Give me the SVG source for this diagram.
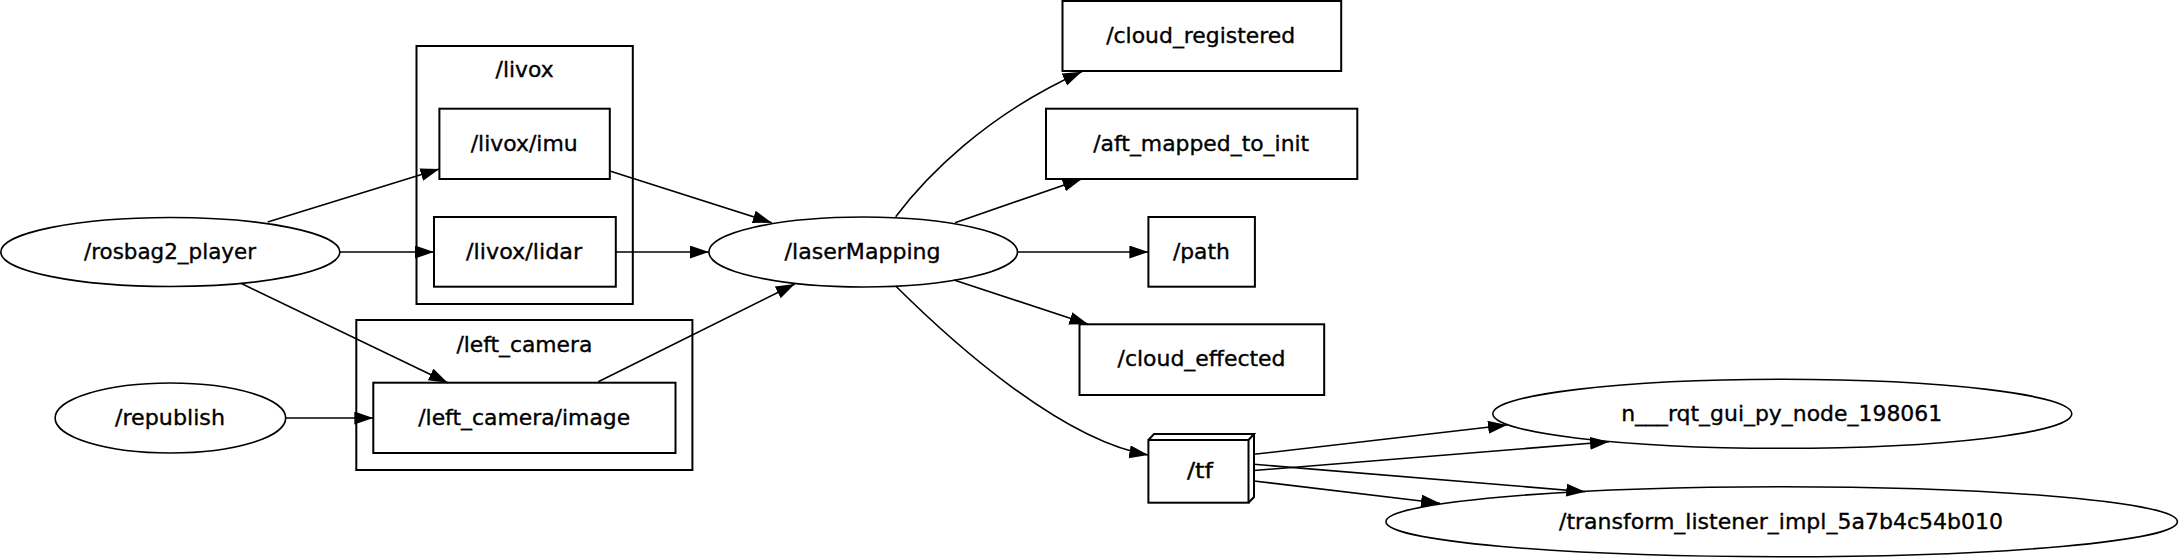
<svg xmlns="http://www.w3.org/2000/svg" width="2179" height="558" viewBox="0 0 2179 558">
<style>
text{font-family:"DejaVu Sans","Liberation Sans",sans-serif;font-size:21px;fill:#000;stroke:#000;stroke-width:0.35;text-anchor:middle}
.box{fill:none;stroke:#000;stroke-width:2}
.clu{fill:none;stroke:#000;stroke-width:2}
.ell{fill:none;stroke:#000;stroke-width:1.6}
.edge{fill:none;stroke:#000;stroke-width:1.6;marker-end:url(#arr)}
</style>
<defs>
<marker id="arr" markerUnits="userSpaceOnUse" markerWidth="20" markerHeight="14" refX="19" refY="6.5" orient="auto">
<path d="M0,0 L19,6.5 L0,13 z" fill="#000"/>
</marker>
</defs>
<rect width="2179" height="558" fill="#fff"/>
<g id="cluster_livox">
<rect class="clu" x="416.5" y="46" width="216.3" height="258"/>
<text x="524.6" y="77" textLength="58" lengthAdjust="spacingAndGlyphs">/livox</text>
</g>
<g id="cluster_left_camera">
<rect class="clu" x="356.3" y="320" width="336.1" height="150"/>
<text x="524.4" y="352" textLength="136" lengthAdjust="spacingAndGlyphs">/left_camera</text>
</g>
<g id="edges">
<path class="edge" d="M267.7,222 L439.4,169"/>
<path class="edge" d="M339.8,252 L434,252"/>
<path class="edge" d="M241,283.3 L447.7,382.7"/>
<path class="edge" d="M285.6,418 L373.3,418"/>
<path class="edge" d="M609.8,171 L771.8,222.7"/>
<path class="edge" d="M615.8,252 L708.9,252"/>
<path class="edge" d="M598.3,381.7 L794.8,284"/>
<path class="edge" d="M895.7,216.7 C925,178 985,115 1081.7,71.7"/>
<path class="edge" d="M955,222.7 L1081.7,179"/>
<path class="edge" d="M1017.5,252 L1148.4,252"/>
<path class="edge" d="M954,280 L1088.3,324.3"/>
<path class="edge" d="M895.7,286 C950,340 1060,440 1148.3,455"/>
<path class="edge" d="M1254,454.3 L1507,425"/>
<path class="edge" d="M1254,464.3 L1585.3,491.7"/>
<path class="edge" d="M1254,470.5 L1609,441.7"/>
<path class="edge" d="M1254,481 L1440,503.3"/>
</g>
<g id="rosbag2_player">
<ellipse class="ell" cx="170.3" cy="252" rx="169.5" ry="34.5"/>
<text x="170" y="259" textLength="172" lengthAdjust="spacingAndGlyphs">/rosbag2_player</text>
</g>
<g id="republish">
<ellipse class="ell" cx="170.4" cy="418" rx="115.3" ry="35"/>
<text x="170" y="425" textLength="110" lengthAdjust="spacingAndGlyphs">/republish</text>
</g>
<g id="livox_imu">
<rect class="box" x="439.4" y="108.7" width="170.4" height="70.3"/>
<text x="524.2" y="151" textLength="107" lengthAdjust="spacingAndGlyphs">/livox/imu</text>
</g>
<g id="livox_lidar">
<rect class="box" x="434" y="217" width="181.8" height="69.7"/>
<text x="524.1" y="259" textLength="116" lengthAdjust="spacingAndGlyphs">/livox/lidar</text>
</g>
<g id="left_camera_image">
<rect class="box" x="373.3" y="382.7" width="302.2" height="70.3"/>
<text x="524.2" y="425" textLength="212" lengthAdjust="spacingAndGlyphs">/left_camera/image</text>
</g>
<g id="laserMapping">
<ellipse class="ell" cx="863.2" cy="252" rx="154.3" ry="35"/>
<text x="862.6" y="259" textLength="156" lengthAdjust="spacingAndGlyphs">/laserMapping</text>
</g>
<g id="cloud_registered">
<rect class="box" x="1062.5" y="1" width="278.7" height="70"/>
<text x="1200.7" y="43" textLength="189" lengthAdjust="spacingAndGlyphs">/cloud_registered</text>
</g>
<g id="aft_mapped_to_init">
<rect class="box" x="1046" y="108.7" width="311.3" height="70.3"/>
<text x="1201.2" y="151" textLength="216" lengthAdjust="spacingAndGlyphs">/aft_mapped_to_init</text>
</g>
<g id="path">
<rect class="box" x="1148.4" y="217" width="106.5" height="69.7"/>
<text x="1201.4" y="259" textLength="57" lengthAdjust="spacingAndGlyphs">/path</text>
</g>
<g id="cloud_effected">
<rect class="box" x="1079.5" y="324.3" width="244.7" height="70.7"/>
<text x="1201.5" y="366" textLength="168" lengthAdjust="spacingAndGlyphs">/cloud_effected</text>
</g>
<g id="tf">
<rect class="box" x="1148.4" y="440" width="100.1" height="62.7"/>
<path class="box" d="M1148.4,440 L1154,434 L1254,434 L1248.5,440 M1254,434 L1254,497 L1248.5,502.7" stroke-linejoin="miter"/>
<text x="1200" y="478" textLength="26" lengthAdjust="spacingAndGlyphs">/tf</text>
</g>
<g id="rqt_gui_py_node">
<ellipse class="ell" cx="1782.3" cy="413.8" rx="289.5" ry="34.5"/>
<text x="1781.7" y="421" textLength="321" lengthAdjust="spacingAndGlyphs">n___rqt_gui_py_node_198061</text>
</g>
<g id="transform_listener">
<ellipse class="ell" cx="1781.7" cy="521.7" rx="395.7" ry="35"/>
<text x="1781" y="529" textLength="444" lengthAdjust="spacingAndGlyphs">/transform_listener_impl_5a7b4c54b010</text>
</g>
</svg>
